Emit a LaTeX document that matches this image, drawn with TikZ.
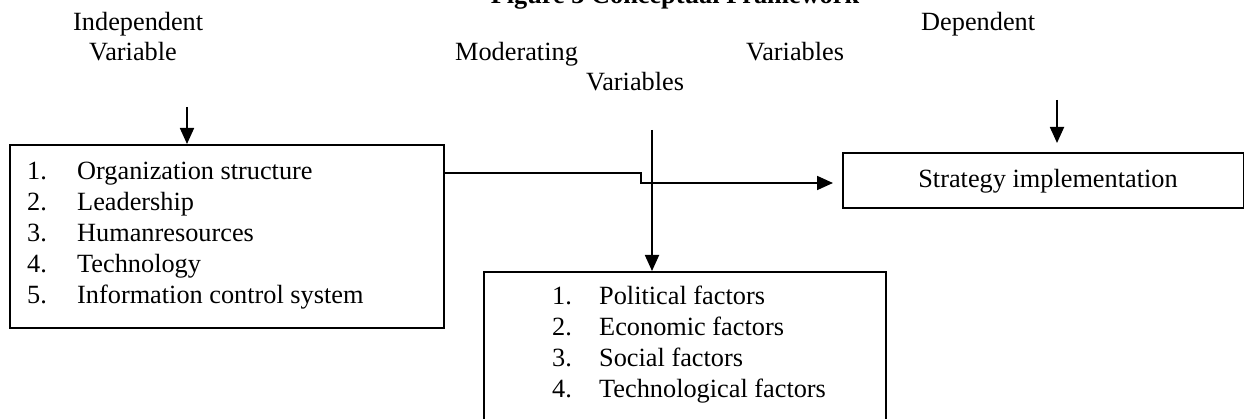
\documentclass[tikz,border=0pt]{standalone}
\usepackage{fontspec}
\setmainfont{Liberation Serif}
\usetikzlibrary{arrows.meta}
\begin{document}
\begin{tikzpicture}[x=1pt,y=-1pt,
  every node/.style={inner sep=0pt, font=\fontsize{26.3}{31}\selectfont},
  box/.style={draw, line width=1.8pt, rectangle, anchor=north west},
  lbl/.style={anchor=base west},
  arr/.style={line width=1.8pt, -{Triangle[length=16pt,width=14pt]}},
  conn/.style={line width=1.8pt}]
\useasboundingbox (0,0) rectangle (1244,419);
\clip (0,0) rectangle (1244,419);
% title (cut off at top, as in the reference)
\node[anchor=base, font=\bfseries\fontsize{26.3}{31}\selectfont] (title) at (675,4) {Figure 3 Conceptual Framework};
% headings
\node[lbl] (h1) at (73,31) {Independent};
\node[lbl] (h2) at (89,61) {Variable};
\node[lbl] (h3) at (455,61) {Moderating};
\node[lbl] (h4) at (746,61) {Variables};
\node[lbl] (h5) at (586,91) {Variables};
\node[lbl] (h6) at (921,31) {Dependent};
% boxes
\node[box, minimum width=434pt, minimum height=183pt] (iv) at (9,144) {};
\node[box, minimum width=402pt, minimum height=180pt] (mv) at (483,271) {};
\node[box, minimum width=401pt, minimum height=55pt] (dv) at (842,152) {};
% box texts
\node[lbl] (ivlist) at (27,180) {\begin{tabular}[t]{@{}p{50pt}@{}l@{}}
1. & Organization structure\\
2. & Leadership\\
3. & Humanresources\\
4. & Technology\\
5. & Information control system
\end{tabular}};
\node[lbl] (mvlist) at (552,305) {\begin{tabular}[t]{@{}p{47pt}@{}l@{}}
1. & Political factors\\
2. & Economic factors\\
3. & Social factors\\
4. & Technological factors
\end{tabular}};
\node[anchor=base] (dvtext) at (1048,188) {Strategy implementation};
% connectors
\coordinate (ivtop) at (187,107);
\coordinate (mvtop) at (652,130);
\coordinate (dvtop) at (1057,100);
\coordinate (bend) at (641,173);
\draw[arr] (ivtop) -- (ivtop |- iv.north);
\draw[arr] (mvtop) -- (mvtop |- mv.north);
\draw[arr, shorten >=9pt] (dvtop) -- (dvtop |- dv.north);
\draw[arr, shorten >=9pt] (iv.east |- bend) -- (bend) -- ++(0,10) -- (dv.west |- 0,183);
\end{tikzpicture}
\end{document}
